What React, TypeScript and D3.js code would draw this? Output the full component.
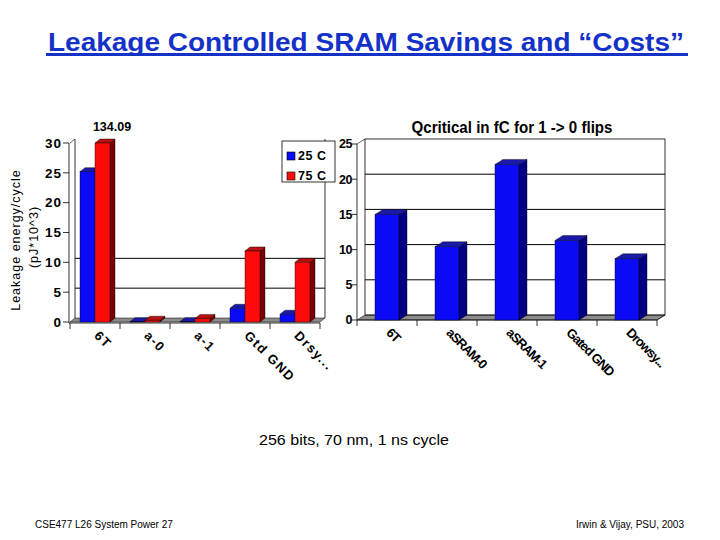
import React from 'react';
import * as d3 from "d3";

// left chart: leakage energy per cycle
const leakCats = ["6T", "a-0", "a-1", "Gtd GND", "Drsy..."];
const leakSeries = ["25 C", "75 C"];
const leak25 = [25.2, 0.05, 0.05, 2.3, 1.3];
const leak75 = [134.09, 0.3, 0.6, 11.9, 10.0];
const leakTicks = [0, 5, 10, 15, 20, 25, 30];
const leakGrid = [5, 10];

// right chart: Qcritical
const qCats = ["6T", "aSRAM-0", "aSRAM-1", "Gated GND", "Drowsy..."];
const qVals = [15.0, 10.4, 22.1, 11.3, 8.7];
const qTicks = [0, 5, 10, 15, 20, 25];

const BLUE = { front: "#0a0af5", top: "#1a1aa8", side: "#000080" };
const RED = { front: "#ff0a0a", top: "#b81010", side: "#7a0000" };
const FONT = "Arial, 'Liberation Sans', sans-serif";

type Colors = { front: string; top: string; side: string };

const Bar3D = ({ x, w, yTop, y0, dx, dy, c }: { x: number; w: number; yTop: number; y0: number; dx: number; dy: number; c: Colors }) => {
    const top = `M${x},${yTop}L${x + dx},${yTop + dy}L${x + w + dx},${yTop + dy}L${x + w},${yTop}Z`;
    const side = `M${x + w},${yTop}L${x + w + dx},${yTop + dy}L${x + w + dx},${y0 + dy}L${x + w},${y0}Z`;
    return (
        <g>
            <path d={side} fill={c.side} stroke="#000" strokeWidth={0.4} />
            <path d={top} fill={c.top} stroke="#000" strokeWidth={0.4} />
            <rect x={x} y={yTop} width={w} height={Math.max(0, y0 - yTop)} fill={c.front} stroke="#000" strokeWidth={0.4} />
        </g>
    );
};

const LeakChart = () => {
    const dx = 5, dy = -4;
    const x = d3.scaleBand<string>().domain(leakCats).range([70, 320]);
    const inner = d3.scaleBand<string>().domain(leakSeries).range([10, 40]);
    const y = d3.scaleLinear().domain([0, 30]).range([322, 143]).clamp(true);
    const y0 = y(0);
    const series = [leak25, leak75];
    const colors = [BLUE, RED];
    const xl = x.range()[0], xr = x.range()[1];

    return (
        <g fontFamily={FONT}>
            {/* floor */}
            <path d={`M${xl},${y0}L${xl + dx},${y0 + dy}L${xr + dx},${y0 + dy}L${xr},${y0}Z`} fill="#8c8c8c" stroke="#000" strokeWidth={0.5} />
            {/* back wall edges */}
            <line x1={xl + dx} x2={xl + dx} y1={y(30) + dy} y2={y0 + dy} stroke="#000" strokeWidth={0.8} />
            <line x1={xr + dx} x2={xr + dx} y1={y(30) + dy} y2={y0 + dy} stroke="#000" strokeWidth={0.8} />
            {leakGrid.map(t => (
                <line key={t} x1={xl + dx} x2={xr + dx} y1={y(t) + dy} y2={y(t) + dy} stroke="#000" strokeWidth={1} />
            ))}
            {/* front axes */}
            <line x1={xl - 1} x2={xl - 1} y1={y(30)} y2={y0 + 1} stroke="#000" strokeWidth={0.8} />
            <line x1={xl} x2={xl + dx} y1={y(30)} y2={y(30) + dy} stroke="#000" strokeWidth={0.6} />
            <line x1={xl - 1} x2={xr} y1={y0 + 1} y2={y0 + 1} stroke="#000" strokeWidth={0.8} />
            {leakTicks.map(t => (
                <g key={t}>
                    <line x1={xl - 7} x2={xl - 1} y1={y(t)} y2={y(t)} stroke="#000" strokeWidth={0.8} />
                    <text x={xl - 8} y={y(t)} dy="0.35em" textAnchor="end" fontSize={13.5} fontWeight="bold" letterSpacing={1}>{t}</text>
                </g>
            ))}
            {leakCats.map(c => (
                <line key={c} x1={x(c)!} x2={x(c)!} y1={y0 + 1} y2={y0 + 7} stroke="#000" strokeWidth={0.8} />
            ))}
            <line x1={xr} x2={xr} y1={y0 + 1} y2={y0 + 7} stroke="#000" strokeWidth={0.8} />
            {/* bars */}
            {leakCats.map((c, i) => (
                <g key={c}>
                    {series.map((s, j) => (
                        <Bar3D key={j} x={x(c)! + inner(leakSeries[j])!} w={inner.bandwidth()} yTop={y(s[i])} y0={y0} dx={dx} dy={dy} c={colors[j]} />
                    ))}
                </g>
            ))}
            {/* clipped value label */}
            <text x={x(leakCats[0])! + inner(leakSeries[1])! + 17} y={y(30) - 12} textAnchor="middle" fontSize={12.5} fontWeight="bold">{leak75[0]}</text>
            {/* category labels */}
            {leakCats.map(c => {
                const lx = x(c)! + x.bandwidth() / 2 + 5;
                const ly = y0 + 8;
                return (
                    <text key={c} x={lx} y={ly} dy="0.7em" fontSize={13} fontWeight="bold" letterSpacing={1.5} transform={`rotate(45,${lx},${ly})`}>{c}</text>
                );
            })}
            {/* y label */}
            <text transform="translate(20,240) rotate(-90)" textAnchor="middle" fontSize={12.5} letterSpacing={1}>Leakage energy/cycle</text>
            <text transform="translate(38,237) rotate(-90)" textAnchor="middle" fontSize={12.5} letterSpacing={1}>(pJ*10^3)</text>
            {/* legend */}
            <rect x={282} y={141} width={53} height={41} fill="#fff" stroke="#000" strokeWidth={0.8} />
            {leakSeries.map((s, j) => (
                <g key={s}>
                    <rect x={287} y={152 + j * 20} width={8} height={8} fill={colors[j].front} stroke="#000" strokeWidth={0.6} />
                    <text x={298} y={156 + j * 20} dy="0.35em" fontSize={12.5} fontWeight="bold" letterSpacing={0.5}>{s}</text>
                </g>
            ))}
        </g>
    );
};

const QChart = () => {
    const dx = 8, dy = -5;
    const x = d3.scaleBand<string>().domain(qCats).range([357, 657]);
    const y = d3.scaleLinear().domain([0, 25]).range([320, 144]);
    const y0 = y(0);
    const xl = x.range()[0], xr = x.range()[1];
    const bw = 24;

    return (
        <g fontFamily={FONT}>
            <text x={512} y={133} textAnchor="middle" fontSize={16} fontWeight="bold" textLength={201} lengthAdjust="spacingAndGlyphs">Qcritical in fC for 1 -&gt; 0 flips</text>
            {/* floor */}
            <path d={`M${xl},${y0}L${xl + dx},${y0 + dy}L${xr + dx},${y0 + dy}L${xr},${y0}Z`} fill="#8c8c8c" stroke="#000" strokeWidth={0.5} />
            {/* back wall */}
            <rect x={xl + dx} y={y(25) + dy} width={xr - xl} height={y0 - y(25)} fill="none" stroke="#000" strokeWidth={0.8} />
            {qTicks.filter(t => t > 0 && t < 25).map(t => (
                <line key={t} x1={xl + dx} x2={xr + dx} y1={y(t) + dy} y2={y(t) + dy} stroke="#000" strokeWidth={1} />
            ))}
            {/* front axes */}
            <line x1={xl} x2={xl} y1={y(25)} y2={y0} stroke="#000" strokeWidth={0.8} />
            <line x1={xl} x2={xl + dx} y1={y(25)} y2={y(25) + dy} stroke="#000" strokeWidth={0.6} />
            <line x1={xl} x2={xr} y1={y0} y2={y0} stroke="#000" strokeWidth={0.8} />
            <line x1={xr} x2={xr + dx} y1={y0} y2={y0 + dy} stroke="#000" strokeWidth={0.6} />
            {qTicks.map(t => (
                <g key={t}>
                    <line x1={xl - 5} x2={xl} y1={y(t)} y2={y(t)} stroke="#000" strokeWidth={0.8} />
                    <text x={xl - 5} y={y(t)} dy="0.35em" textAnchor="end" fontSize={12.5} fontWeight="bold" letterSpacing={-0.5}>{t}</text>
                </g>
            ))}
            {qCats.map(c => (
                <line key={c} x1={x(c)!} x2={x(c)!} y1={y0} y2={y0 + 6} stroke="#000" strokeWidth={0.8} />
            ))}
            <line x1={xr} x2={xr} y1={y0} y2={y0 + 6} stroke="#000" strokeWidth={0.8} />
            {qCats.map((c, i) => (
                <Bar3D key={c} x={x(c)! + (x.bandwidth() - bw) / 2} w={bw} yTop={y(qVals[i])} y0={y0} dx={dx} dy={dy} c={BLUE} />
            ))}
            {qCats.map(c => {
                const lx = x(c)! + x.bandwidth() / 2 + 5;
                const ly = y0 + 7;
                return (
                    <text key={c} x={lx} y={ly} dy="0.7em" fontSize={13} fontWeight="bold" letterSpacing={-0.9} transform={`rotate(45,${lx},${ly})`}>{c}</text>
                );
            })}
        </g>
    );
};

const App = () => {
    return (
        <svg width={720} height={540} style={{ position: "absolute", left: 0, top: 0, background: "#fff" }}>
            <rect width={720} height={540} fill="#fff" />
            <text x={366} y={51} textAnchor="middle" fontFamily={FONT} fontSize={25} fontWeight="bold" fill="#1432c8" textLength={636} lengthAdjust="spacingAndGlyphs">Leakage Controlled SRAM Savings and “Costs”</text>
            <rect x={46} y={53} width={642} height={3} fill="#1432c8" />
            <LeakChart />
            <QChart />
            <text x={354} y={445} textAnchor="middle" fontFamily={FONT} fontSize={15} textLength={190} lengthAdjust="spacingAndGlyphs">256 bits, 70 nm, 1 ns cycle</text>
            <text x={35} y={528} fontFamily={FONT} fontSize={10}>CSE477 L26 System Power 27</text>
            <text x={684} y={528} textAnchor="end" fontFamily={FONT} fontSize={10}>Irwin &amp; Vijay, PSU, 2003</text>
        </svg>
    );
};

export default App;
